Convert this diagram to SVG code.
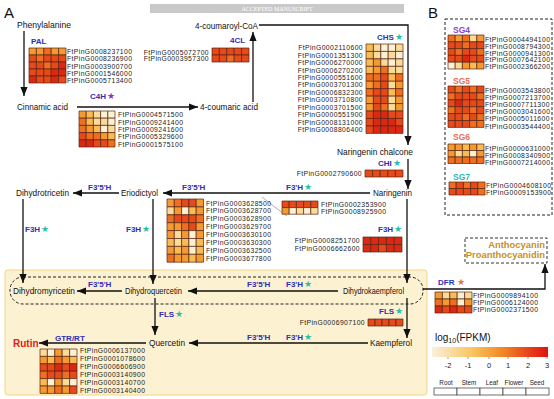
<svg xmlns="http://www.w3.org/2000/svg" width="554" height="399" viewBox="0 0 554 399">
<style>
text{font-family:"Liberation Sans",Arial,sans-serif}
.t{font-size:8.5px;fill:#111}
.e{font-size:8px;font-weight:bold;fill:#2e2eb8}
.st{font-size:9px;fill:#27bfa5;font-family:"DejaVu Sans",sans-serif}
.g{font-size:6.8px;letter-spacing:0.4px;fill:#222}
.ge{font-size:6.8px;letter-spacing:0.4px;fill:#222;text-anchor:end}
.h rect{stroke:#5a2210;stroke-width:0.7;vector-effect:non-scaling-stroke}
.c0{fill:#fbf2d6}.c1{fill:#fadc98}.c2{fill:#f8bc55}.c3{fill:#f49a30}.c4{fill:#ee6f1f}.c5{fill:#e6491a}.c6{fill:#dc2813}
.ar{fill:none;stroke:#111;stroke-width:1.3;marker-end:url(#ah)}
.ln{fill:none;stroke:#111;stroke-width:1.3}
</style>
<defs>
<marker id="ah" viewBox="0 0 10 8" refX="10" refY="4" markerWidth="9" markerHeight="7.2" markerUnits="userSpaceOnUse" orient="auto"><path d="M0,0 L10,4 L0,8 z" fill="#111"/></marker>
<linearGradient id="lg" x1="0" x2="1" y1="0" y2="0"><stop offset="0" stop-color="#f8f1dc"/><stop offset="0.35" stop-color="#f8c560"/><stop offset="0.6" stop-color="#f28a28"/><stop offset="1" stop-color="#e01010"/></linearGradient>
</defs>

<rect x="150" y="4" width="254" height="9" fill="#c9c9c9"/>
<text x="277" y="11" font-size="6" fill="#fff" text-anchor="middle" style="font-family:'Liberation Serif',serif">ACCEPTED MANUSCRIPT</text>

<text x="4" y="18" font-size="15" fill="#111">A</text>
<text x="428" y="18" font-size="15" fill="#111">B</text>

<rect id="flavonol-area" x="5" y="270" width="422" height="125" rx="3" fill="#fcf1d0" stroke="#f0d68a" stroke-width="1"/>
<rect id="dihydro-group" x="10" y="277" width="413" height="27" rx="13" fill="none" stroke="#222" stroke-width="1" stroke-dasharray="3,2"/>

<g id="connectors">
<path class="ar" d="M24 31 V96"/>
<path class="ar" d="M77 107 H198"/>
<path class="ar" d="M253 102 V32"/>
<path class="ar" d="M259 25 H408 V145"/>
<path class="ar" d="M408 159 V189"/>
<path class="ar" d="M370 193 H163"/>
<path class="ar" d="M119 193 H73"/>
<path class="ar" d="M23 199 V283"/>
<path class="ar" d="M153 199 V284"/>
<path class="ar" d="M407 199 V283"/>
<path class="ar" d="M338 291 H188"/>
<path class="ar" d="M122 291 H77"/>
<path class="ar" d="M407 298 V338"/>
<path class="ar" d="M155 298 V335"/>
<path class="ar" d="M368 343 H189"/>
<path class="ar" d="M146 343 H39"/>
<path class="ar" d="M423 289 H545 V264"/>
<path d="M262 197 Q273 206 287 216" fill="none" stroke="#777" stroke-width="0.6"/>
</g>

<g id="compounds">
<text class="t" x="17" y="28" textLength="54" lengthAdjust="spacingAndGlyphs">Phenylalanine</text>
<text class="t" x="17" y="110" textLength="51" lengthAdjust="spacingAndGlyphs">Cinnamic acid</text>
<text class="t" x="200" y="110" textLength="58" lengthAdjust="spacingAndGlyphs">4-coumaric acid</text>
<text class="t" x="195" y="29" textLength="63" lengthAdjust="spacingAndGlyphs">4-coumaroyl-CoA</text>
<text class="t" x="337" y="155" textLength="76" lengthAdjust="spacingAndGlyphs">Naringenin chalcone</text>
<text class="t" x="373" y="196" textLength="39" lengthAdjust="spacingAndGlyphs">Naringenin</text>
<text class="t" x="121" y="196" textLength="37" lengthAdjust="spacingAndGlyphs">Eriodictyol</text>
<text class="t" x="16" y="196" textLength="53" lengthAdjust="spacingAndGlyphs">Dihydrotricetin</text>
<text class="t" x="13" y="294" textLength="62" lengthAdjust="spacingAndGlyphs">Dihydromyricetin</text>
<text class="t" x="125" y="294" textLength="57" lengthAdjust="spacingAndGlyphs">Dihydroquercetin</text>
<text class="t" x="343" y="294" textLength="61" lengthAdjust="spacingAndGlyphs">Dihydrokaempferol</text>
<text class="t" x="370" y="346" textLength="42" lengthAdjust="spacingAndGlyphs">Kaempferol</text>
<text class="t" x="149" y="346" textLength="36" lengthAdjust="spacingAndGlyphs">Quercetin</text>
<text x="13" y="347" font-size="10" font-weight="bold" fill="#e0201a">Rutin</text>
<g id="anthocyanin">
<rect x="465" y="238" width="82" height="25" fill="none" stroke="#333" stroke-width="1" stroke-dasharray="3,2"/>
<text x="545" y="248" font-size="9.4" font-weight="bold" fill="#c8901a" text-anchor="end">Anthocyanin</text>
<text x="545" y="258" font-size="9.4" font-weight="bold" fill="#c8901a" text-anchor="end">Proanthocyanidin</text>
</g>
</g>

<g id="enzymes">
<text class="e" x="31" y="44">PAL</text>
<text class="e" x="90" y="99">C4H</text><text class="st" x="107" y="99" fill="#8833cc" style="fill:#8833cc">★</text>
<text class="e" x="230" y="43">4CL</text>
<text class="e" x="377" y="40">CHS</text><text class="st" x="395" y="40">★</text>
<text class="e" x="378" y="166">CHI</text><text class="st" x="393" y="166">★</text>
<text class="e" x="182" y="190">F3'5'H</text>
<text class="e" x="286" y="190">F3'H</text><text class="st" x="304" y="190">★</text>
<text class="e" x="88" y="190">F3'5'H</text>
<text class="e" x="25" y="232">F3H</text><text class="st" x="41" y="232">★</text>
<text class="e" x="126" y="232">F3H</text><text class="st" x="142" y="232">★</text>
<text class="e" x="378" y="232">F3H</text><text class="st" x="394" y="232">★</text>
<text class="e" x="88" y="287">F3'5'H</text>
<text class="e" x="247" y="287">F3'5'H</text>
<text class="e" x="286" y="287">F3'H</text><text class="st" x="304" y="287">★</text>
<text class="e" x="379" y="314">FLS</text><text class="st" x="395" y="314">★</text>
<text class="e" x="159" y="317">FLS</text><text class="st" x="175" y="317">★</text>
<text class="e" x="247" y="340">F3'5'H</text>
<text class="e" x="286" y="340">F3'H</text><text class="st" x="304" y="340">★</text>
<text class="e" x="55" y="341">GTR/RT</text>
<text class="e" x="438" y="285">DFR</text><text class="st" x="457" y="285" style="fill:#f07030">★</text>
</g>

<g id="PAL">
<g class="h" transform="translate(29 48) scale(7.4 7)">
<rect x="0" y="0" width="1" height="1" class="c3"/><rect x="1" y="0" width="1" height="1" class="c3"/><rect x="2" y="0" width="1" height="1" class="c4"/><rect x="3" y="0" width="1" height="1" class="c3"/><rect x="4" y="0" width="1" height="1" class="c3"/>
<rect x="0" y="1" width="1" height="1" class="c5"/><rect x="1" y="1" width="1" height="1" class="c4"/><rect x="2" y="1" width="1" height="1" class="c5"/><rect x="3" y="1" width="1" height="1" class="c5"/><rect x="4" y="1" width="1" height="1" class="c5"/>
<rect x="0" y="2" width="1" height="1" class="c5"/><rect x="1" y="2" width="1" height="1" class="c5"/><rect x="2" y="2" width="1" height="1" class="c4"/><rect x="3" y="2" width="1" height="1" class="c5"/><rect x="4" y="2" width="1" height="1" class="c6"/>
<rect x="0" y="3" width="1" height="1" class="c5"/><rect x="1" y="3" width="1" height="1" class="c5"/><rect x="2" y="3" width="1" height="1" class="c5"/><rect x="3" y="3" width="1" height="1" class="c6"/><rect x="4" y="3" width="1" height="1" class="c6"/>
<rect x="0" y="4" width="1" height="1" class="c6"/><rect x="1" y="4" width="1" height="1" class="c5"/><rect x="2" y="4" width="1" height="1" class="c5"/><rect x="3" y="4" width="1" height="1" class="c6"/><rect x="4" y="4" width="1" height="1" class="c5"/>
</g>
<text class="g" x="67" y="53.8">FtPinG0008237100</text>
<text class="g" x="67" y="61.2">FtPinG0008236900</text>
<text class="g" x="67" y="68.6">FtPinG0003900700</text>
<text class="g" x="67" y="76">FtPinG0001546000</text>
<text class="g" x="67" y="83.4">FtPinG0005713400</text>
</g>

<g id="C4H">
<g class="h" transform="translate(79 111) scale(7.2 7.2)">
<rect x="0" y="0" width="1" height="1" class="c3"/><rect x="1" y="0" width="1" height="1" class="c2"/><rect x="2" y="0" width="1" height="1" class="c1"/><rect x="3" y="0" width="1" height="1" class="c0"/><rect x="4" y="0" width="1" height="1" class="c0"/>
<rect x="0" y="1" width="1" height="1" class="c4"/><rect x="1" y="1" width="1" height="1" class="c2"/><rect x="2" y="1" width="1" height="1" class="c1"/><rect x="3" y="1" width="1" height="1" class="c1"/><rect x="4" y="1" width="1" height="1" class="c0"/>
<rect x="0" y="2" width="1" height="1" class="c4"/><rect x="1" y="2" width="1" height="1" class="c3"/><rect x="2" y="2" width="1" height="1" class="c2"/><rect x="3" y="2" width="1" height="1" class="c0"/><rect x="4" y="2" width="1" height="1" class="c1"/>
<rect x="0" y="3" width="1" height="1" class="c5"/><rect x="1" y="3" width="1" height="1" class="c4"/><rect x="2" y="3" width="1" height="1" class="c4"/><rect x="3" y="3" width="1" height="1" class="c3"/><rect x="4" y="3" width="1" height="1" class="c2"/>
<rect x="0" y="4" width="1" height="1" class="c6"/><rect x="1" y="4" width="1" height="1" class="c6"/><rect x="2" y="4" width="1" height="1" class="c5"/><rect x="3" y="4" width="1" height="1" class="c5"/><rect x="4" y="4" width="1" height="1" class="c4"/>
</g>
<text class="g" x="118" y="117.4">FtPinG0004571500</text>
<text class="g" x="118" y="124.7">FtPinG0009241400</text>
<text class="g" x="118" y="132">FtPinG0009241600</text>
<text class="g" x="118" y="139.3">FtPinG0005329600</text>
<text class="g" x="118" y="146.6">FtPinG0001575100</text>
</g>

<g id="4CL">
<g class="h" transform="translate(212 48) scale(7.4 7)">
<rect x="0" y="0" width="1" height="1" class="c5"/><rect x="1" y="0" width="1" height="1" class="c5"/><rect x="2" y="0" width="1" height="1" class="c5"/><rect x="3" y="0" width="1" height="1" class="c5"/><rect x="4" y="0" width="1" height="1" class="c5"/>
<rect x="0" y="1" width="1" height="1" class="c5"/><rect x="1" y="1" width="1" height="1" class="c5"/><rect x="2" y="1" width="1" height="1" class="c4"/><rect x="3" y="1" width="1" height="1" class="c5"/><rect x="4" y="1" width="1" height="1" class="c5"/>
</g>
<text class="ge" x="209" y="54.5">FtPinG0005072700</text>
<text class="ge" x="209" y="61">FtPinG0003957300</text>
</g>

<g id="CHS">
<g class="h" transform="translate(366 44) scale(7.4 7.45)">
<rect x="0" y="0" width="1" height="1" class="c2"/><rect x="1" y="0" width="1" height="1" class="c1"/><rect x="2" y="0" width="1" height="1" class="c0"/><rect x="3" y="0" width="1" height="1" class="c0"/><rect x="4" y="0" width="1" height="1" class="c1"/>
<rect x="0" y="1" width="1" height="1" class="c2"/><rect x="1" y="1" width="1" height="1" class="c1"/><rect x="2" y="1" width="1" height="1" class="c0"/><rect x="3" y="1" width="1" height="1" class="c1"/><rect x="4" y="1" width="1" height="1" class="c0"/>
<rect x="0" y="2" width="1" height="1" class="c2"/><rect x="1" y="2" width="1" height="1" class="c3"/><rect x="2" y="2" width="1" height="1" class="c1"/><rect x="3" y="2" width="1" height="1" class="c0"/><rect x="4" y="2" width="1" height="1" class="c1"/>
<rect x="0" y="3" width="1" height="1" class="c2"/><rect x="1" y="3" width="1" height="1" class="c3"/><rect x="2" y="3" width="1" height="1" class="c4"/><rect x="3" y="3" width="1" height="1" class="c1"/><rect x="4" y="3" width="1" height="1" class="c1"/>
<rect x="0" y="4" width="1" height="1" class="c4"/><rect x="1" y="4" width="1" height="1" class="c4"/><rect x="2" y="4" width="1" height="1" class="c5"/><rect x="3" y="4" width="1" height="1" class="c2"/><rect x="4" y="4" width="1" height="1" class="c4"/>
<rect x="0" y="5" width="1" height="1" class="c3"/><rect x="1" y="5" width="1" height="1" class="c4"/><rect x="2" y="5" width="1" height="1" class="c5"/><rect x="3" y="5" width="1" height="1" class="c1"/><rect x="4" y="5" width="1" height="1" class="c3"/>
<rect x="0" y="6" width="1" height="1" class="c4"/><rect x="1" y="6" width="1" height="1" class="c5"/><rect x="2" y="6" width="1" height="1" class="c5"/><rect x="3" y="6" width="1" height="1" class="c2"/><rect x="4" y="6" width="1" height="1" class="c4"/>
<rect x="0" y="7" width="1" height="1" class="c3"/><rect x="1" y="7" width="1" height="1" class="c5"/><rect x="2" y="7" width="1" height="1" class="c5"/><rect x="3" y="7" width="1" height="1" class="c1"/><rect x="4" y="7" width="1" height="1" class="c3"/>
<rect x="0" y="8" width="1" height="1" class="c3"/><rect x="1" y="8" width="1" height="1" class="c5"/><rect x="2" y="8" width="1" height="1" class="c4"/><rect x="3" y="8" width="1" height="1" class="c1"/><rect x="4" y="8" width="1" height="1" class="c3"/>
<rect x="0" y="9" width="1" height="1" class="c5"/><rect x="1" y="9" width="1" height="1" class="c6"/><rect x="2" y="9" width="1" height="1" class="c6"/><rect x="3" y="9" width="1" height="1" class="c5"/><rect x="4" y="9" width="1" height="1" class="c5"/>
<rect x="0" y="10" width="1" height="1" class="c5"/><rect x="1" y="10" width="1" height="1" class="c6"/><rect x="2" y="10" width="1" height="1" class="c6"/><rect x="3" y="10" width="1" height="1" class="c6"/><rect x="4" y="10" width="1" height="1" class="c5"/>
<rect x="0" y="11" width="1" height="1" class="c5"/><rect x="1" y="11" width="1" height="1" class="c6"/><rect x="2" y="11" width="1" height="1" class="c6"/><rect x="3" y="11" width="1" height="1" class="c6"/><rect x="4" y="11" width="1" height="1" class="c6"/>
</g>
<text class="ge" x="363" y="50.2">FtPinG0002110600</text>
<text class="ge" x="363" y="57.6">FtPinG0001351300</text>
<text class="ge" x="363" y="65.1">FtPinG0006270000</text>
<text class="ge" x="363" y="72.5">FtPinG0006270200</text>
<text class="ge" x="363" y="80">FtPinG0000551600</text>
<text class="ge" x="363" y="87.4">FtPinG0003701300</text>
<text class="ge" x="363" y="94.9">FtPinG0006832300</text>
<text class="ge" x="363" y="102.3">FtPinG0003710800</text>
<text class="ge" x="363" y="109.8">FtPinG0003701500</text>
<text class="ge" x="363" y="117.2">FtPinG0000551900</text>
<text class="ge" x="363" y="124.7">FtPinG0008131000</text>
<text class="ge" x="363" y="132.1">FtPinG0008806400</text>
</g>

<g id="CHI">
<g class="h" transform="translate(365 170) scale(7.6 7)">
<rect x="0" y="0" width="1" height="1" class="c5"/><rect x="1" y="0" width="1" height="1" class="c5"/><rect x="2" y="0" width="1" height="1" class="c5"/><rect x="3" y="0" width="1" height="1" class="c5"/><rect x="4" y="0" width="1" height="1" class="c5"/>
</g>
<text class="ge" x="362" y="176">FtPinG0002790600</text>
</g>

<g id="F35H">
<g class="h" transform="translate(167 199) scale(7.3 7.9)">
<rect x="0" y="0" width="1" height="1" class="c3"/><rect x="1" y="0" width="1" height="1" class="c4"/><rect x="2" y="0" width="1" height="1" class="c5"/><rect x="3" y="0" width="1" height="1" class="c5"/><rect x="4" y="0" width="1" height="1" class="c3"/>
<rect x="0" y="1" width="1" height="1" class="c1"/><rect x="1" y="1" width="1" height="1" class="c3"/><rect x="2" y="1" width="1" height="1" class="c0"/><rect x="3" y="1" width="1" height="1" class="c2"/><rect x="4" y="1" width="1" height="1" class="c3"/>
<rect x="0" y="2" width="1" height="1" class="c4"/><rect x="1" y="2" width="1" height="1" class="c5"/><rect x="2" y="2" width="1" height="1" class="c5"/><rect x="3" y="2" width="1" height="1" class="c5"/><rect x="4" y="2" width="1" height="1" class="c4"/>
<rect x="0" y="3" width="1" height="1" class="c3"/><rect x="1" y="3" width="1" height="1" class="c3"/><rect x="2" y="3" width="1" height="1" class="c4"/><rect x="3" y="3" width="1" height="1" class="c5"/><rect x="4" y="3" width="1" height="1" class="c3"/>
<rect x="0" y="4" width="1" height="1" class="c3"/><rect x="1" y="4" width="1" height="1" class="c1"/><rect x="2" y="4" width="1" height="1" class="c3"/><rect x="3" y="4" width="1" height="1" class="c0"/><rect x="4" y="4" width="1" height="1" class="c3"/>
<rect x="0" y="5" width="1" height="1" class="c2"/><rect x="1" y="5" width="1" height="1" class="c1"/><rect x="2" y="5" width="1" height="1" class="c2"/><rect x="3" y="5" width="1" height="1" class="c0"/><rect x="4" y="5" width="1" height="1" class="c2"/>
<rect x="0" y="6" width="1" height="1" class="c3"/><rect x="1" y="6" width="1" height="1" class="c2"/><rect x="2" y="6" width="1" height="1" class="c3"/><rect x="3" y="6" width="1" height="1" class="c0"/><rect x="4" y="6" width="1" height="1" class="c2"/>
<rect x="0" y="7" width="1" height="1" class="c4"/><rect x="1" y="7" width="1" height="1" class="c3"/><rect x="2" y="7" width="1" height="1" class="c3"/><rect x="3" y="7" width="1" height="1" class="c2"/><rect x="4" y="7" width="1" height="1" class="c3"/>
</g>
<text class="g" x="206" y="205.5">FtPinG0003628500</text>
<text class="g" x="206" y="213.4">FtPinG0003628700</text>
<text class="g" x="206" y="221.3">FtPinG0003628900</text>
<text class="g" x="206" y="229.2">FtPinG0003629700</text>
<text class="g" x="206" y="237.1">FtPinG0003630100</text>
<text class="g" x="206" y="245">FtPinG0003630300</text>
<text class="g" x="206" y="252.9">FtPinG0003632500</text>
<text class="g" x="206" y="260.8">FtPinG0003677800</text>
</g>

<g id="F3H-prime">
<g class="h" transform="translate(282 201) scale(7.2 6.6)">
<rect x="0" y="0" width="1" height="1" class="c5"/><rect x="1" y="0" width="1" height="1" class="c5"/><rect x="2" y="0" width="1" height="1" class="c5"/><rect x="3" y="0" width="1" height="1" class="c5"/><rect x="4" y="0" width="1" height="1" class="c5"/>
<rect x="0" y="1" width="1" height="1" class="c3"/><rect x="1" y="1" width="1" height="1" class="c0"/><rect x="2" y="1" width="1" height="1" class="c1"/><rect x="3" y="1" width="1" height="1" class="c0"/><rect x="4" y="1" width="1" height="1" class="c1"/>
</g>
<text class="g" x="321" y="206.5">FtPinG0002353900</text>
<text class="g" x="321" y="214">FtPinG0008925900</text>
</g>

<g id="F3H">
<g class="h" transform="translate(363 237) scale(7.8 7.5)">
<rect x="0" y="0" width="1" height="1" class="c6"/><rect x="1" y="0" width="1" height="1" class="c6"/><rect x="2" y="0" width="1" height="1" class="c6"/><rect x="3" y="0" width="1" height="1" class="c6"/><rect x="4" y="0" width="1" height="1" class="c6"/>
<rect x="0" y="1" width="1" height="1" class="c6"/><rect x="1" y="1" width="1" height="1" class="c6"/><rect x="2" y="1" width="1" height="1" class="c5"/><rect x="3" y="1" width="1" height="1" class="c6"/><rect x="4" y="1" width="1" height="1" class="c6"/>
</g>
<text class="ge" x="360" y="243">FtPinG0008251700</text>
<text class="ge" x="360" y="250.5">FtPinG0006662600</text>
</g>

<g id="FLS">
<g class="h" transform="translate(368 319) scale(7 7)">
<rect x="0" y="0" width="1" height="1" class="c5"/><rect x="1" y="0" width="1" height="1" class="c5"/><rect x="2" y="0" width="1" height="1" class="c5"/><rect x="3" y="0" width="1" height="1" class="c5"/><rect x="4" y="0" width="1" height="1" class="c5"/>
</g>
<text class="ge" x="365" y="325">FtPinG0006907100</text>
</g>

<g id="GTR">
<g class="h" transform="translate(40 349) scale(7.4 7.4)">
<rect x="0" y="0" width="1" height="1" class="c1"/><rect x="1" y="0" width="1" height="1" class="c0"/><rect x="2" y="0" width="1" height="1" class="c3"/><rect x="3" y="0" width="1" height="1" class="c1"/><rect x="4" y="0" width="1" height="1" class="c0"/>
<rect x="0" y="1" width="1" height="1" class="c3"/><rect x="1" y="1" width="1" height="1" class="c2"/><rect x="2" y="1" width="1" height="1" class="c4"/><rect x="3" y="1" width="1" height="1" class="c3"/><rect x="4" y="1" width="1" height="1" class="c2"/>
<rect x="0" y="2" width="1" height="1" class="c5"/><rect x="1" y="2" width="1" height="1" class="c5"/><rect x="2" y="2" width="1" height="1" class="c6"/><rect x="3" y="2" width="1" height="1" class="c5"/><rect x="4" y="2" width="1" height="1" class="c6"/>
<rect x="0" y="3" width="1" height="1" class="c4"/><rect x="1" y="3" width="1" height="1" class="c5"/><rect x="2" y="3" width="1" height="1" class="c5"/><rect x="3" y="3" width="1" height="1" class="c4"/><rect x="4" y="3" width="1" height="1" class="c5"/>
<rect x="0" y="4" width="1" height="1" class="c2"/><rect x="1" y="4" width="1" height="1" class="c0"/><rect x="2" y="4" width="1" height="1" class="c3"/><rect x="3" y="4" width="1" height="1" class="c1"/><rect x="4" y="4" width="1" height="1" class="c0"/>
<rect x="0" y="5" width="1" height="1" class="c3"/><rect x="1" y="5" width="1" height="1" class="c3"/><rect x="2" y="5" width="1" height="1" class="c4"/><rect x="3" y="5" width="1" height="1" class="c3"/><rect x="4" y="5" width="1" height="1" class="c5"/>
</g>
<text class="g" x="80" y="352.5">FtPinG0006137000</text>
<text class="g" x="80" y="360.5">FtPinG0001078600</text>
<text class="g" x="80" y="368.5">FtPinG0006606900</text>
<text class="g" x="80" y="376.5">FtPinG0003140900</text>
<text class="g" x="80" y="384.5">FtPinG0003140700</text>
<text class="g" x="80" y="392.5">FtPinG0003140400</text>
</g>

<g id="DFR">
<g class="h" transform="translate(435 292) scale(7.4 7)">
<rect x="0" y="0" width="1" height="1" class="c3"/><rect x="1" y="0" width="1" height="1" class="c1"/><rect x="2" y="0" width="1" height="1" class="c2"/><rect x="3" y="0" width="1" height="1" class="c0"/><rect x="4" y="0" width="1" height="1" class="c1"/>
<rect x="0" y="1" width="1" height="1" class="c4"/><rect x="1" y="1" width="1" height="1" class="c3"/><rect x="2" y="1" width="1" height="1" class="c4"/><rect x="3" y="1" width="1" height="1" class="c0"/><rect x="4" y="1" width="1" height="1" class="c3"/>
<rect x="0" y="2" width="1" height="1" class="c6"/><rect x="1" y="2" width="1" height="1" class="c5"/><rect x="2" y="2" width="1" height="1" class="c6"/><rect x="3" y="2" width="1" height="1" class="c5"/><rect x="4" y="2" width="1" height="1" class="c5"/>
</g>
<text class="g" x="473" y="297.5">FtPinG0009894100</text>
<text class="g" x="473" y="304.5">FtPinG0006124000</text>
<text class="g" x="473" y="311.5">FtPinG0002371500</text>
</g>

<g id="legend">
<text x="435" y="341" font-size="10" fill="#111">log<tspan font-size="7" dy="2">10</tspan><tspan dy="-2">(FPKM)</tspan></text>
<rect x="432" y="347" width="116" height="10" fill="url(#lg)"/>
<g stroke="#555" stroke-width="0.6">
<path d="M448 357 v2 M468 357 v2 M489 357 v2 M508 357 v2 M528 357 v2 M547 357 v2"/>
</g>
<g font-size="7.5" fill="#222" text-anchor="middle">
<text x="448" y="368">-2</text><text x="468" y="368">-1</text><text x="489" y="368">0</text><text x="508" y="368">1</text><text x="528" y="368">2</text><text x="547" y="368">3</text>
</g>
<g font-size="6.3" fill="#222" text-anchor="middle">
<text x="446" y="385">Root</text><text x="469" y="385">Stem</text><text x="492" y="385">Leaf</text><text x="514" y="385">Flower</text><text x="537" y="385">Seed</text>
</g>
<g fill="#fff" stroke="#333" stroke-width="0.7">
<rect x="434" y="388" width="23" height="7"/><rect x="457" y="388" width="23" height="7"/><rect x="480" y="388" width="23" height="7"/><rect x="503" y="388" width="23" height="7"/><rect x="526" y="388" width="23" height="7"/>
</g>
</g>

<g id="panelB">
<rect x="445" y="19" width="107" height="196" fill="none" stroke="#222" stroke-width="1" stroke-dasharray="3,2"/>
<g id="SG4">
<text x="453" y="33" font-size="8.5" font-weight="bold" fill="#8844cc">SG4</text>
<g class="h" transform="translate(448 35) scale(7.2 6.8)">
<rect x="0" y="0" width="1" height="1" class="c4"/><rect x="1" y="0" width="1" height="1" class="c3"/><rect x="2" y="0" width="1" height="1" class="c4"/><rect x="3" y="0" width="1" height="1" class="c1"/><rect x="4" y="0" width="1" height="1" class="c3"/>
<rect x="0" y="1" width="1" height="1" class="c5"/><rect x="1" y="1" width="1" height="1" class="c5"/><rect x="2" y="1" width="1" height="1" class="c4"/><rect x="3" y="1" width="1" height="1" class="c5"/><rect x="4" y="1" width="1" height="1" class="c5"/>
<rect x="0" y="2" width="1" height="1" class="c5"/><rect x="1" y="2" width="1" height="1" class="c4"/><rect x="2" y="2" width="1" height="1" class="c5"/><rect x="3" y="2" width="1" height="1" class="c5"/><rect x="4" y="2" width="1" height="1" class="c4"/>
<rect x="0" y="3" width="1" height="1" class="c5"/><rect x="1" y="3" width="1" height="1" class="c5"/><rect x="2" y="3" width="1" height="1" class="c6"/><rect x="3" y="3" width="1" height="1" class="c5"/><rect x="4" y="3" width="1" height="1" class="c5"/>
<rect x="0" y="4" width="1" height="1" class="c0"/><rect x="1" y="4" width="1" height="1" class="c1"/><rect x="2" y="4" width="1" height="1" class="c3"/><rect x="3" y="4" width="1" height="1" class="c2"/><rect x="4" y="4" width="1" height="1" class="c3"/>
</g>
<text class="g" x="485" y="42.3">FtPinG0004494100</text>
<text class="g" x="485" y="49">FtPinG0008794300</text>
<text class="g" x="485" y="55.7">FtPinG0000941300</text>
<text class="g" x="485" y="62.4">FtPinG0007642100</text>
<text class="g" x="485" y="69.1">FtPinG0002366200</text>
</g>
<g id="SG5">
<text x="453" y="84" font-size="8.5" font-weight="bold" fill="#e87050">SG5</text>
<g class="h" transform="translate(448 86) scale(7.2 6.9)">
<rect x="0" y="0" width="1" height="1" class="c5"/><rect x="1" y="0" width="1" height="1" class="c4"/><rect x="2" y="0" width="1" height="1" class="c5"/><rect x="3" y="0" width="1" height="1" class="c4"/><rect x="4" y="0" width="1" height="1" class="c5"/>
<rect x="0" y="1" width="1" height="1" class="c4"/><rect x="1" y="1" width="1" height="1" class="c5"/><rect x="2" y="1" width="1" height="1" class="c5"/><rect x="3" y="1" width="1" height="1" class="c5"/><rect x="4" y="1" width="1" height="1" class="c4"/>
<rect x="0" y="2" width="1" height="1" class="c5"/><rect x="1" y="2" width="1" height="1" class="c6"/><rect x="2" y="2" width="1" height="1" class="c5"/><rect x="3" y="2" width="1" height="1" class="c5"/><rect x="4" y="2" width="1" height="1" class="c5"/>
<rect x="0" y="3" width="1" height="1" class="c4"/><rect x="1" y="3" width="1" height="1" class="c5"/><rect x="2" y="3" width="1" height="1" class="c5"/><rect x="3" y="3" width="1" height="1" class="c4"/><rect x="4" y="3" width="1" height="1" class="c5"/>
<rect x="0" y="4" width="1" height="1" class="c5"/><rect x="1" y="4" width="1" height="1" class="c5"/><rect x="2" y="4" width="1" height="1" class="c4"/><rect x="3" y="4" width="1" height="1" class="c5"/><rect x="4" y="4" width="1" height="1" class="c4"/>
<rect x="0" y="5" width="1" height="1" class="c5"/><rect x="1" y="5" width="1" height="1" class="c5"/><rect x="2" y="5" width="1" height="1" class="c5"/><rect x="3" y="5" width="1" height="1" class="c4"/><rect x="4" y="5" width="1" height="1" class="c4"/>
</g>
<text class="g" x="485" y="92.5">FtPinG0003543800</text>
<text class="g" x="485" y="99.7">FtPinG0007213700</text>
<text class="g" x="485" y="106.9">FtPinG0007711300</text>
<text class="g" x="485" y="114.1">FtPinG0003041600</text>
<text class="g" x="485" y="121.3">FtPinG0005011600</text>
<text class="g" x="485" y="128.5">FtPinG0003544400</text>
</g>
<g id="SG6">
<text x="453" y="140" font-size="8.5" font-weight="bold" fill="#e87050">SG6</text>
<g class="h" transform="translate(448 144) scale(7.2 6.5)">
<rect x="0" y="0" width="1" height="1" class="c3"/><rect x="1" y="0" width="1" height="1" class="c3"/><rect x="2" y="0" width="1" height="1" class="c2"/><rect x="3" y="0" width="1" height="1" class="c3"/><rect x="4" y="0" width="1" height="1" class="c2"/>
<rect x="0" y="1" width="1" height="1" class="c3"/><rect x="1" y="1" width="1" height="1" class="c1"/><rect x="2" y="1" width="1" height="1" class="c2"/><rect x="3" y="1" width="1" height="1" class="c0"/><rect x="4" y="1" width="1" height="1" class="c3"/>
<rect x="0" y="2" width="1" height="1" class="c4"/><rect x="1" y="2" width="1" height="1" class="c4"/><rect x="2" y="2" width="1" height="1" class="c4"/><rect x="3" y="2" width="1" height="1" class="c4"/><rect x="4" y="2" width="1" height="1" class="c4"/>
</g>
<text class="g" x="485" y="150.5">FtPinG0000631000</text>
<text class="g" x="485" y="157.5">FtPinG0008340900</text>
<text class="g" x="485" y="164.5">FtPinG0007214000</text>
</g>
<g id="SG7">
<text x="453" y="180" font-size="8.5" font-weight="bold" fill="#30b8b0">SG7</text>
<g class="h" transform="translate(449 182) scale(7.2 6.5)">
<rect x="0" y="0" width="1" height="1" class="c4"/><rect x="1" y="0" width="1" height="1" class="c5"/><rect x="2" y="0" width="1" height="1" class="c4"/><rect x="3" y="0" width="1" height="1" class="c5"/><rect x="4" y="0" width="1" height="1" class="c4"/>
<rect x="0" y="1" width="1" height="1" class="c5"/><rect x="1" y="1" width="1" height="1" class="c5"/><rect x="2" y="1" width="1" height="1" class="c5"/><rect x="3" y="1" width="1" height="1" class="c5"/><rect x="4" y="1" width="1" height="1" class="c4"/>
</g>
<text class="g" x="486" y="188">FtPinG0004608100</text>
<text class="g" x="486" y="195">FtPinG0009153900</text>
</g>
</g>
</svg>
